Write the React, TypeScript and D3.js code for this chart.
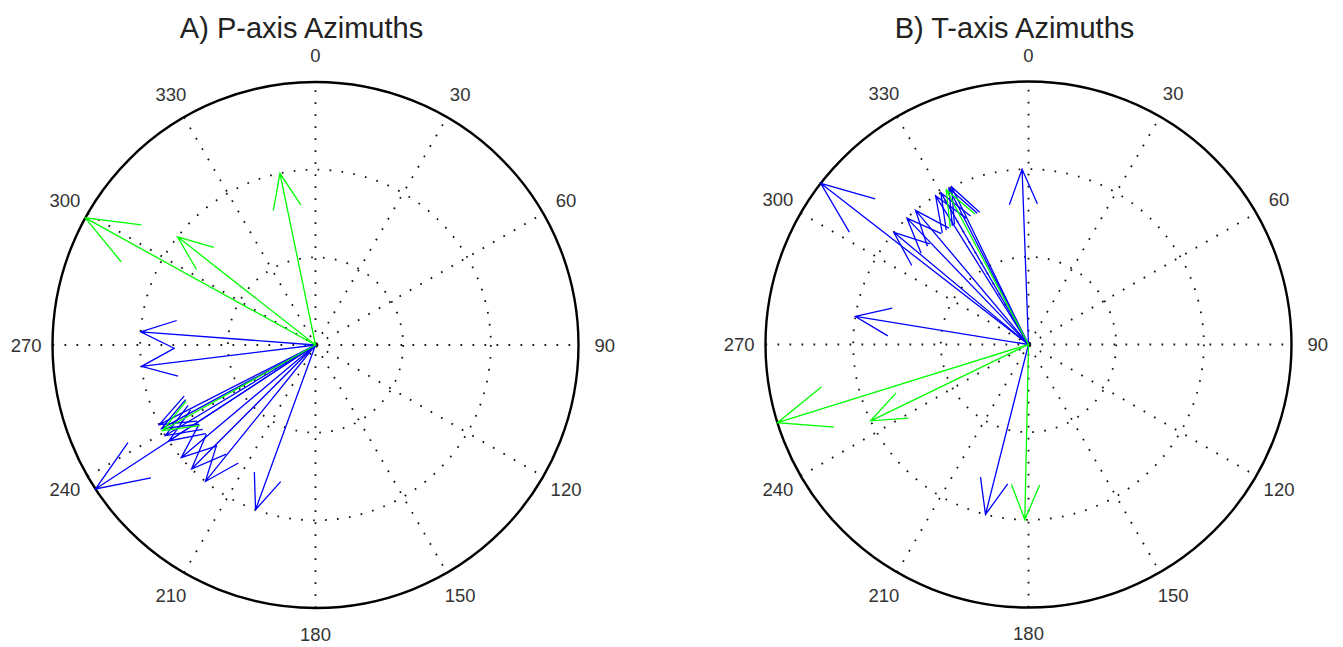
import React from "react";
import * as d3 from "d3";

// ---- data (azimuth in degrees, magnitude on 0..3 scale) ----
const tickAngles = [0, 30, 60, 90, 120, 150, 180, 210, 240, 270, 300, 330];
const ringValues = [1, 2];
const rMax = 3;

const pBlueAz = [274.3, 263.0, 236.8, 200.0, 243.0, 241.5, 238.9, 236.8, 230.0, 225.0, 218.9];
const pBlueMag = [2, 2, 3, 2, 2, 2, 2, 2, 2, 2, 2];
const pGreenAz = [348.3, 298.9, 308.1, 240.8];
const pGreenMag = [2, 3, 2, 2];

const tBlueAz = [307.8, 357.9, 279.2, 194.2, 309.8, 316.1, 319.9, 328.0, 330.0, 334.0, 333.0];
const tBlueMag = [3, 2, 2, 2, 2, 2, 2, 2, 2, 2, 2];
const tGreenAz = [252.7, 244.2, 181.2, 332.0];
const tGreenMag = [3, 2, 2, 2];

const R = 263;
const FONT = "'Liberation Sans', Arial, Helvetica, sans-serif";

type PanelProps = {
  cx: number;
  cy: number;
  title: string;
  blueAz: number[];
  blueMag: number[];
  greenAz: number[];
  greenMag: number[];
};

const rad = (deg: number) => (deg * Math.PI) / 180;

function Panel({ cx, cy, title, blueAz, blueMag, greenAz, greenMag }: PanelProps) {
  const r = d3.scaleLinear().domain([0, rMax]).range([0, R]);
  const radial = d3
    .lineRadial<[number, number]>()
    .angle((d) => d[0])
    .radius((d) => d[1]);

  // MATLAB compass arrow: 0 -> 1 -> 0.8+0.08i -> 1 -> 0.8-0.08i
  const headAng = Math.atan2(0.08, 0.8);
  const headRad = Math.hypot(0.8, 0.08);
  const arrowPath = (az: number, mag: number) => {
    const a = rad(az);
    const L = r(mag);
    const pts: [number, number][] = [
      [a, 0],
      [a, L],
      [a + headAng, L * headRad],
      [a, L],
      [a - headAng, L * headRad],
    ];
    return radial(pts) || "";
  };

  const dotted = { stroke: "#111", strokeWidth: 1.8, strokeDasharray: "1.7 10.3", fill: "none" };

  return (
    <g>
      <text
        x={cx - 14}
        y={38}
        textAnchor="middle"
        fontFamily={FONT}
        fontSize={29}
        fill="#222"
      >
        {title}
      </text>
      <g transform={`translate(${cx},${cy})`}>
        {/* spokes */}
        {tickAngles
          .filter((a) => a < 180)
          .map((a) => (
            <path
              key={"s" + a}
              d={radial([
                [rad(a + 180), r(rMax)],
                [rad(a), r(rMax)],
              ]) || ""}
              {...dotted}
            />
          ))}
        {/* rings */}
        {ringValues.map((v) => (
          <circle key={"c" + v} r={r(v)} {...dotted} />
        ))}
        <circle r={r(rMax)} fill="none" stroke="#000" strokeWidth={2.4} />
        {/* labels */}
        {tickAngles.map((a) => {
          const rl = r(rMax) * 1.1;
          return (
            <text
              key={"t" + a}
              x={rl * Math.sin(rad(a))}
              y={-rl * Math.cos(rad(a))}
              textAnchor="middle"
              dominantBaseline="central"
              fontFamily={FONT}
              fontSize={18.5}
              fill="#333"
            >
              {a}
            </text>
          );
        })}
        {/* arrows */}
        {blueAz.map((az, i) => (
          <path key={"b" + i} d={arrowPath(az, blueMag[i])} fill="none" stroke="#0000ff" strokeWidth={1.3} />
        ))}
        {greenAz.map((az, i) => (
          <path key={"g" + i} d={arrowPath(az, greenMag[i])} fill="none" stroke="#00ff00" strokeWidth={1.3} />
        ))}
      </g>
    </g>
  );
}

export default function App() {
  return (
    <svg
      width={1343}
      height={647}
      style={{ position: "absolute", left: 0, top: 0, background: "#fff" }}
    >
      <rect width={1343} height={647} fill="#fff" />
      <Panel
        cx={315.5}
        cy={345}
        title="A) P-axis Azimuths"
        blueAz={pBlueAz}
        blueMag={pBlueMag}
        greenAz={pGreenAz}
        greenMag={pGreenMag}
      />
      <Panel
        cx={1028.5}
        cy={344.5}
        title="B) T-axis Azimuths"
        blueAz={tBlueAz}
        blueMag={tBlueMag}
        greenAz={tGreenAz}
        greenMag={tGreenMag}
      />
    </svg>
  );
}
